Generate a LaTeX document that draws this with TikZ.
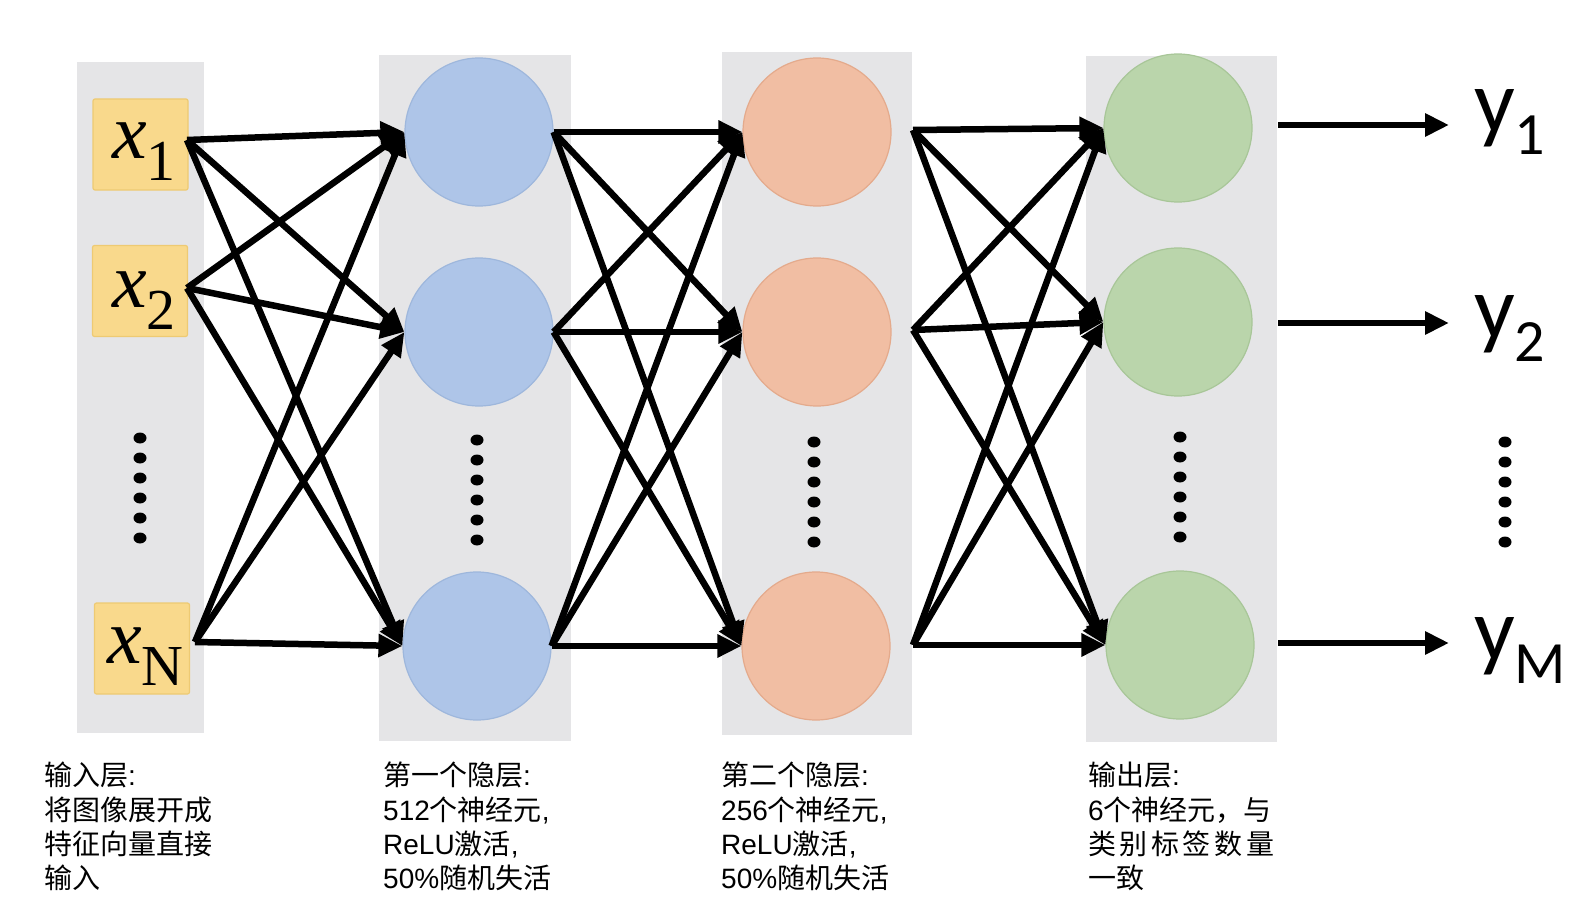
\documentclass[tikz,border=0pt]{standalone}
\usepackage{fontspec}
\setmainfont{Liberation Sans}
\newfontfamily\zhfont{Noto Sans CJK SC}
\newfontfamily\tnr{Liberation Serif}
\newfontfamily\carl{Carlito}
\newcommand\zh[1]{{\zhfont #1}}
\newcommand\xsym[1]{{\itshape\fontsize{78}{78}\selectfont x}\raisebox{-22pt}{\fontsize{58}{58}\selectfont #1}}
\newcommand\ysym[1]{{\fontsize{90}{90}\selectfont y}\raisebox{-23pt}{\fontsize{60}{60}\selectfont #1}}
\usetikzlibrary{arrows.meta}
\definecolor{panelgray}{RGB}{229,229,231}
\definecolor{boxyellow}{RGB}{249,217,140}
\definecolor{boxedge}{RGB}{238,202,115}
\definecolor{nblue}{RGB}{174,197,232}
\definecolor{nblueedge}{RGB}{158,183,220}
\definecolor{norange}{RGB}{241,190,163}
\definecolor{norangeedge}{RGB}{228,170,140}
\definecolor{ngreen}{RGB}{186,213,171}
\definecolor{ngreenedge}{RGB}{168,198,152}
\begin{document}
\begin{tikzpicture}[x=1pt,y=-1pt,
  panel/.style={fill=panelgray, draw=none},
  inbox/.style={rectangle, rounded corners=2pt, minimum width=95pt, minimum height=91pt, fill=boxyellow, draw=boxedge, line width=1.2pt, inner sep=0pt},
  neuron/.style={circle, minimum size=148pt, inner sep=0pt, line width=1.2pt},
  blueneuron/.style={neuron, fill=nblue, draw=nblueedge},
  orangeneuron/.style={neuron, fill=norange, draw=norangeedge},
  greenneuron/.style={neuron, fill=ngreen, draw=ngreenedge},
  conn/.style={line width=6.5pt, -{Triangle[length=24pt,width=22pt]}},
  xlab/.style={anchor=base west, inner sep=0pt, font=\tnr},
  ylab/.style={anchor=base west, inner sep=0pt, font=\carl},
  caption/.style={anchor=north west, inner sep=0pt, align=left, font=\fontsize{28}{34.3}\selectfont},
  dot/.style={fill=black}
]
\useasboundingbox (0,0) rectangle (1585,923);
% panels
\fill[panel] (77,62) rectangle (204,733);
\fill[panel] (379,55) rectangle (571,741);
\fill[panel] (722,52) rectangle (912,735);
\fill[panel] (1086,56) rectangle (1277,742);
% input boxes
\node[inbox] (x1) at (140.5,144.5) {};
\node[inbox] (x2) at (140,291) {};
\node[inbox] (xN) at (142,648.5) {};
\node[xlab] (lx1) at (112,158) {\xsym{1}};
\node[xlab] (lx2) at (112,307) {\xsym{2}};
\node[xlab] (lxN) at (107,663) {\xsym{N}};
% neurons
\node[blueneuron] (h11) at (479,132) {};
\node[blueneuron] (h12) at (479,332) {};
\node[blueneuron] (h13) at (477,646) {};
\node[orangeneuron] (h21) at (817,132) {};
\node[orangeneuron] (h22) at (817,332) {};
\node[orangeneuron] (h23) at (816,646) {};
\node[greenneuron] (o1) at (1178,128) {};
\node[greenneuron] (o2) at (1178,322) {};
\node[greenneuron] (o3) at (1180,645) {};
% dots
\foreach \cx/\cy in {140/438, 477/440, 814/442, 1180/437, 1505/442}{
  \foreach \k in {0,...,5}{
    \fill[dot] (\cx,\cy+\k*20) ellipse (6.5pt and 5.5pt);
  }
}
% start coordinates
\coordinate (s1) at (187,140);
\coordinate (s2) at (187,288);
\coordinate (sN) at (195,642);
\coordinate (t1) at (913,130);
\coordinate (t2) at (913,330);
\coordinate (t3) at (913,645);
% input -> hidden 1
\foreach \s in {s1,s2,sN}{
  \foreach \e in {h11,h12,h13}{
    \draw[conn] (\s) -- (\e.west);
  }
}
% hidden 1 -> hidden 2
\foreach \s in {h11,h12,h13}{
  \foreach \e in {h21,h22,h23}{
    \draw[conn] (\s.east) -- (\e.west);
  }
}
% hidden 2 -> output
\foreach \s in {t1,t2,t3}{
  \foreach \e in {o1,o2,o3}{
    \draw[conn] (\s) -- (\e.west);
  }
}
% outputs
\coordinate (a1) at (1278,125);
\coordinate (a2) at (1278,323);
\coordinate (a3) at (1278,643);
\coordinate (b1) at (1449,125);
\coordinate (b2) at (1449,323);
\coordinate (b3) at (1449,643);
\draw[conn] (a1) -- (b1);
\draw[conn] (a2) -- (b2);
\draw[conn] (a3) -- (b3);
\node[ylab] (y1) at (1474,132) {\ysym{1}};
\node[ylab] (y2) at (1474,338) {\ysym{2}};
\node[ylab] (yM) at (1474,660) {\ysym{M}};
% captions
\node[caption] (c1) at (44,762) {\zh{输入层}:\\\zh{将图像展开成}\\\zh{特征向量直接}\\\zh{输入}};
\node[caption] (c2) at (383,762) {\zh{第一个隐层}:\\512\zh{个神经元},\\ReLU\zh{激活},\\50\%\zh{随机失活}};
\node[caption] (c3) at (721,762) {\zh{第二个隐层}:\\256\zh{个神经元},\\ReLU\zh{激活},\\50\%\zh{随机失活}};
\node[caption] (c4) at (1088,762) {\zh{输出层}:\\6\zh{个神经元，与}\\\zh{类\hspace{3.6pt}别\hspace{3.6pt}标\hspace{3.6pt}签\hspace{3.6pt}数\hspace{3.6pt}量}\\\zh{一致}};
\end{tikzpicture}
\end{document}
